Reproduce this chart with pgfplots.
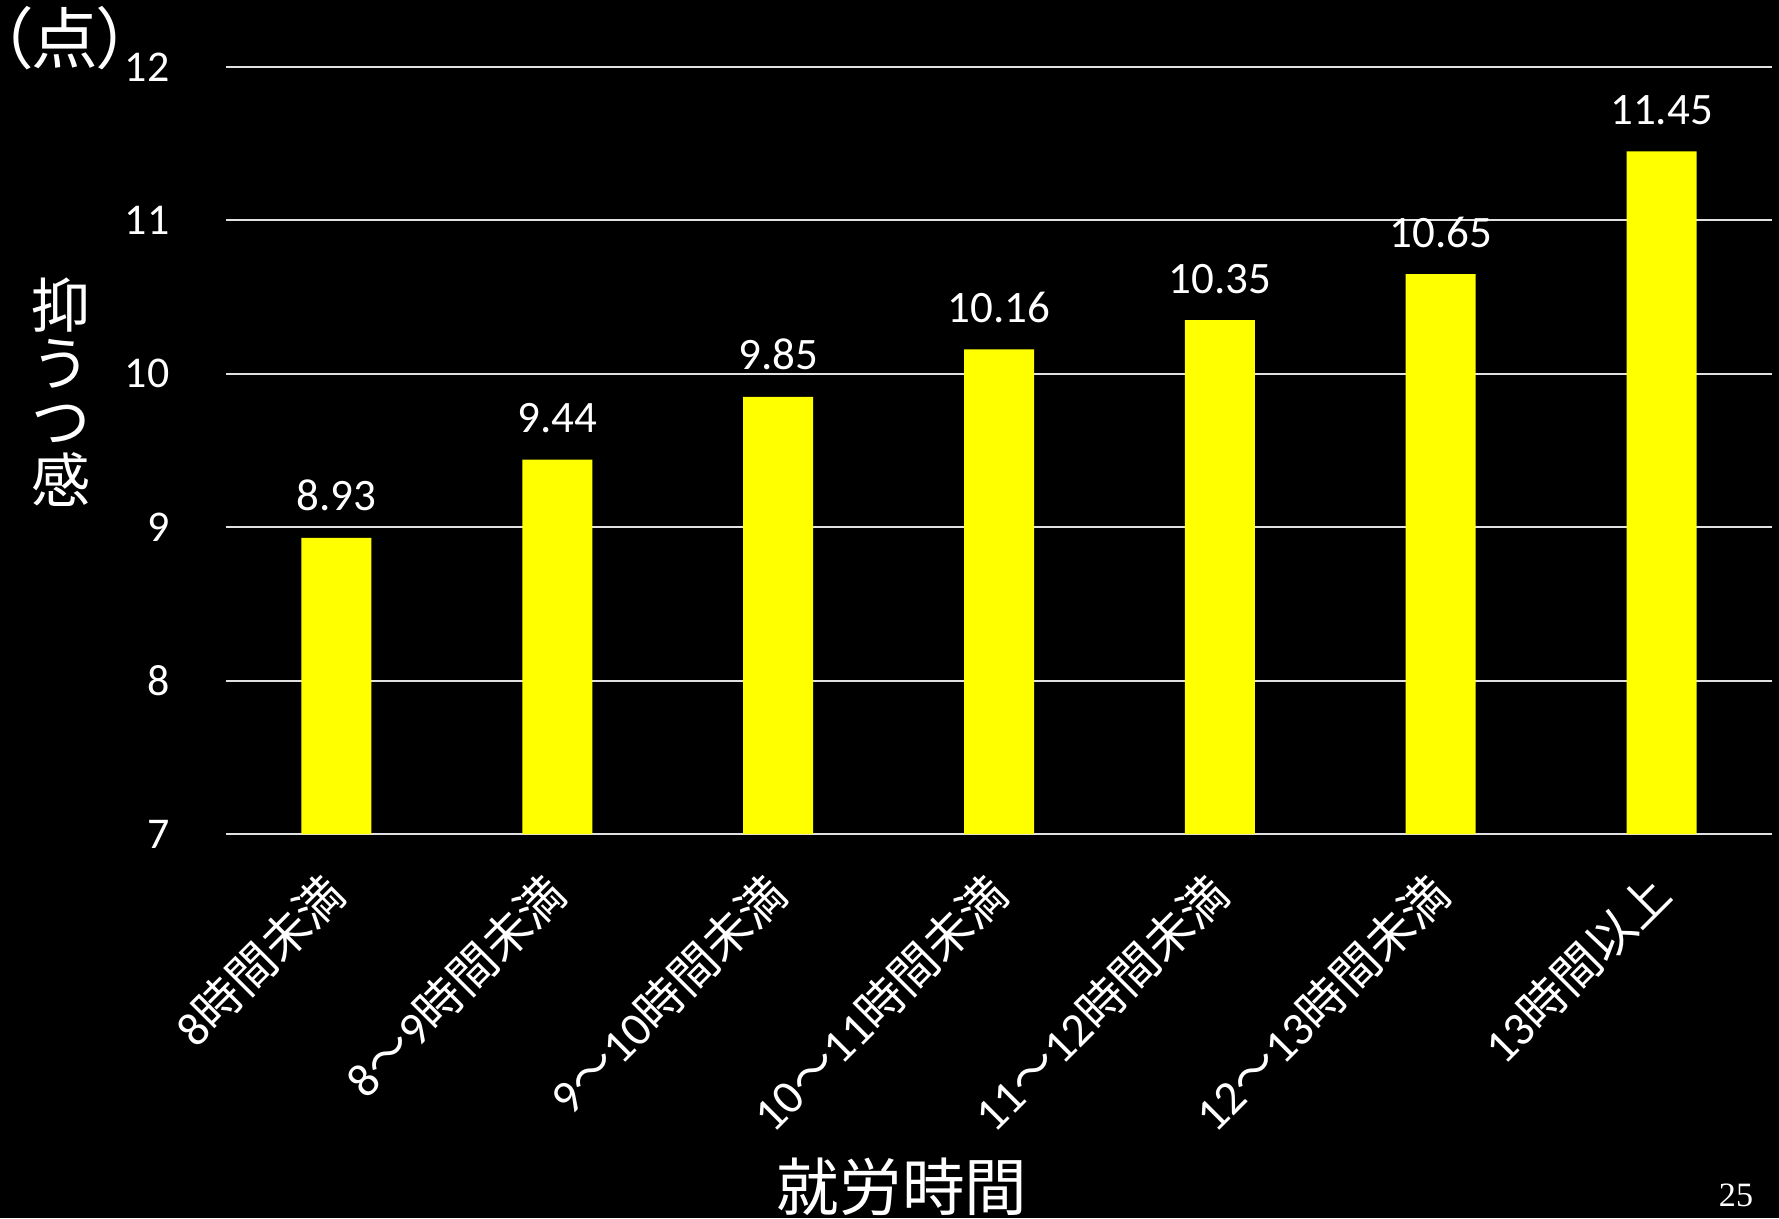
\documentclass[border=0pt]{standalone}
\usepackage{fontspec}
\setmainfont{Carlito}
\newfontfamily\cjk{Noto Sans CJK JP}
\newfontfamily\cjkp[RawFeature=+palt]{Noto Sans CJK JP}
\newfontfamily\timesf{Liberation Serif}
\usepackage{pgfplots}
\pgfplotsset{compat=1.18}
\definecolor{gridc}{RGB}{225,225,225}
\begin{document}
\begin{tikzpicture}
\fill[black] (0,0) rectangle (177.9mm,121.8mm);
\path[use as bounding box] (0,0) rectangle (177.9mm,121.8mm);
\begin{axis}[
  at={(22.6mm,38.4mm)}, anchor=south west,
  scale only axis, width=154.6mm, height=76.7mm,
  xmin=-0.5, xmax=6.5, ymin=7, ymax=12,
  ytick={7,8,9,10,11,12},
  xtick={0,1,2,3,4,5,6},
  xticklabels={
    {8{\cjk 時間未満}},
    {8{\cjk ～}9{\cjk 時間未満}},
    {9{\cjk ～}10{\cjk 時間未満}},
    {10{\cjk ～}11{\cjk 時間未満}},
    {11{\cjk ～}12{\cjk 時間未満}},
    {12{\cjk ～}13{\cjk 時間未満}},
    {13{\cjk 時間以上}}},
  major tick length=0pt,
  axis line style={draw=none},
  ymajorgrids, grid style={draw=gridc, line width=0.6pt},
  /pgf/number format/assume math mode=true,
  yticklabel style={font=\fontsize{12.5}{15}\selectfont, text=white, anchor=east, inner sep=0pt, xshift=-5.6mm},
  xticklabel style={yshift=-5.0mm, font=\fontsize{13.6}{16}\selectfont, text=white, inner sep=0pt, rotate=45, anchor=east},
  ybar, bar width=7mm, bar shift=0pt,
  nodes near coords={\pgfmathprintnumber[fixed, fixed zerofill, precision=2, assume math mode=true]{\pgfplotspointmeta}},
  every node near coord/.append style={font=\fontsize{12.8}{15}\selectfont, text=white, anchor=south, inner sep=0pt, yshift=2.6mm},
]
\addplot[fill={rgb,255:red,255;green,255;blue,0}, draw=none] coordinates {
  (0,8.93) (1,9.44) (2,9.85) (3,10.16) (4,10.35) (5,10.65) (6,11.45)};
\end{axis}
\node[font=\cjk\fontsize{16.8}{16.6}\selectfont, text=white, align=center, inner sep=0pt] at (6.1mm,82.6mm) {抑\\う\\つ\\感};
\node[font=\cjkp\fontsize{19}{21}\selectfont, text=white, inner sep=0pt] at (6.5mm,118.0mm) {（点）};
\node[font=\cjk\fontsize{17.8}{20}\selectfont, text=white, anchor=north, inner sep=0pt] at (90.2mm,6.1mm) {就労時間};
\node[font=\timesf\fontsize{9.7}{11}\selectfont, text=white, inner sep=0pt] at (173.6mm,2.3mm) {25};
\end{tikzpicture}
\end{document}
